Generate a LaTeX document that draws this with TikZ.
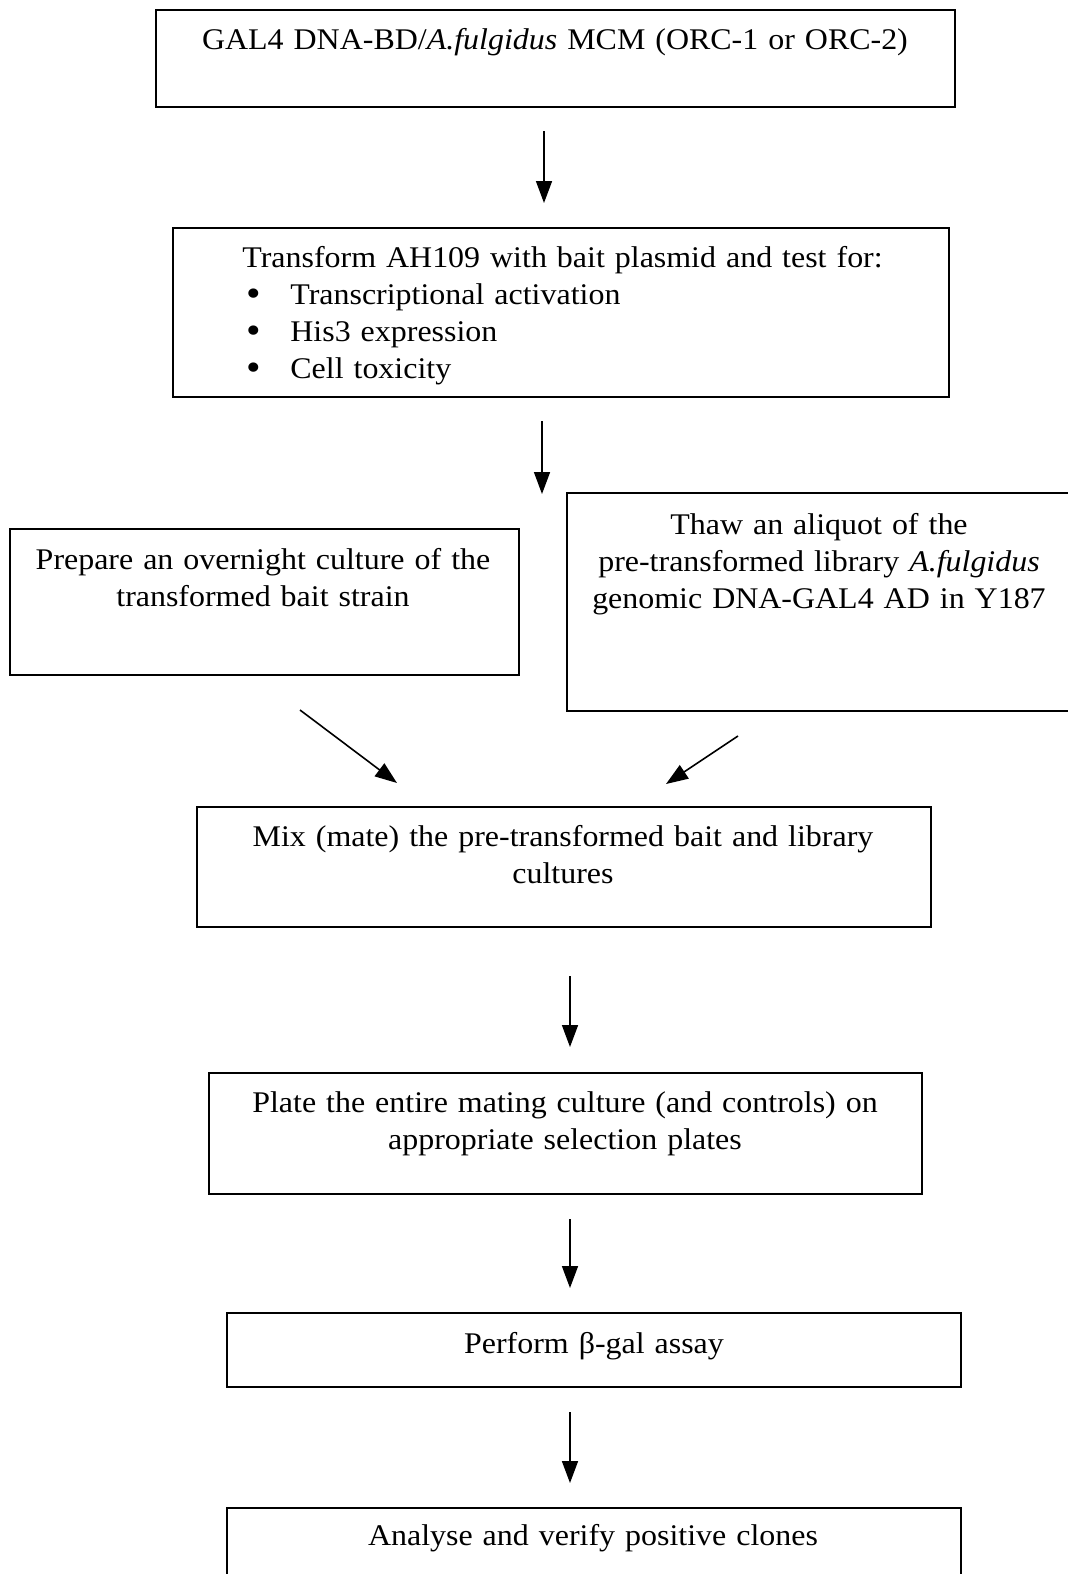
\documentclass[tikz,border=0pt]{standalone}
\usepackage{fontspec}
\setmainfont{Liberation Serif}[FakeStretch=1.065, WordSpace=0.8]
\usetikzlibrary{arrows.meta, positioning}

\newcommand{\stepbullet}{\hspace*{2pt}\makebox[22pt][l]{\raisebox{-1.3pt}{\scalebox{1.3}{\textbullet}}}}

\tikzset{
  stepbox/.style={draw, line width=1pt, inner sep=0pt, rectangle},
  steptext/.style={inner sep=0pt, font=\fontsize{15}{18.5}\selectfont, text width=#1, align=center},
  flow/.style={line width=0.8pt, -{Triangle[length=11pt, width=8pt]}}
}

\begin{document}
\begin{tikzpicture}[x=0.5pt, y=-0.5pt]
      \useasboundingbox (0,0) rectangle (1068,1574);
      % boxes
      \node[stepbox, minimum width=399.5pt, minimum height=48.5pt] (gal4) at (555.5,58.5) {};
      \node[stepbox, minimum width=388pt, minimum height=84.5pt] (transform) at (561,312.5) {};
      \node[stepbox, minimum width=254.5pt, minimum height=73pt] (prep) at (264.5,602) {};
      \node[stepbox, minimum width=254pt, minimum height=109pt] (thaw) at (821,602) {};
      \node[stepbox, minimum width=367pt, minimum height=60pt] (mix) at (564,867) {};
      \node[stepbox, minimum width=356.5pt, minimum height=60.5pt] (plate) at (565.5,1133.5) {};
      \node[stepbox, minimum width=367pt, minimum height=37pt] (perform) at (594,1350) {};
      \node[stepbox, minimum width=367pt, minimum height=46pt] (analyse) at (594,1554) {};
      % texts
      \node[steptext=420pt, anchor=base] (gal4t) at (555,49)
        {GAL4 DNA-BD/\textit{A.fulgidus} MCM (ORC-1 or ORC-2)};
      \node[steptext=360pt, align=left, anchor=base west] (transformt) at (242,267)
        {Transform AH109 with bait plasmid and test for:\\
         \stepbullet Transcriptional activation\\
         \stepbullet His3 expression\\
         \stepbullet Cell toxicity};
      \node[steptext=250pt, anchor=base] (prept) at (263,569)
        {Prepare an overnight culture of the\\ transformed bait strain};
      \node[steptext=250pt, anchor=base] (thawt) at (819,534)
        {Thaw an aliquot of the\\ pre-transformed library \textit{A.fulgidus}\\ genomic DNA-GAL4 AD in Y187};
      \node[steptext=360pt, anchor=base] (mixt) at (563,846)
        {Mix (mate) the pre-transformed bait and library\\ cultures};
      \node[steptext=360pt, anchor=base] (platet) at (565,1112)
        {Plate the entire mating culture (and controls) on\\ appropriate selection plates};
      \node[steptext=360pt, anchor=base] (performt) at (594,1353)
        {Perform β-gal assay};
      \node[steptext=360pt, anchor=base] (analyset) at (593,1545)
        {Analyse and verify positive clones};
      % arrows
      \coordinate (split) at (542,494);
      \draw[flow] ([shift={(-11.5,23)}]gal4.south) -- ([shift={(-17,-24)}]transform.north);
      \draw[flow] ([shift={(-19,23)}]transform.south) -- (split);
      \draw[flow] ([shift={(35.5,34)}]prep.south) -- ([shift={(-167,-23)}]mix.north);
      \draw[flow] ([shift={(-83,24)}]thaw.south) -- ([shift={(102,-22)}]mix.north);
      \draw[flow] ([shift={(6,48)}]mix.south) -- ([shift={(4.5,-25)}]plate.north);
      \draw[flow] ([shift={(4.5,24)}]plate.south) -- ([shift={(-24,-24)}]perform.north);
      \draw[flow] ([shift={(-24,24)}]perform.south) -- ([shift={(-24,-24)}]analyse.north);
\end{tikzpicture}
\end{document}
